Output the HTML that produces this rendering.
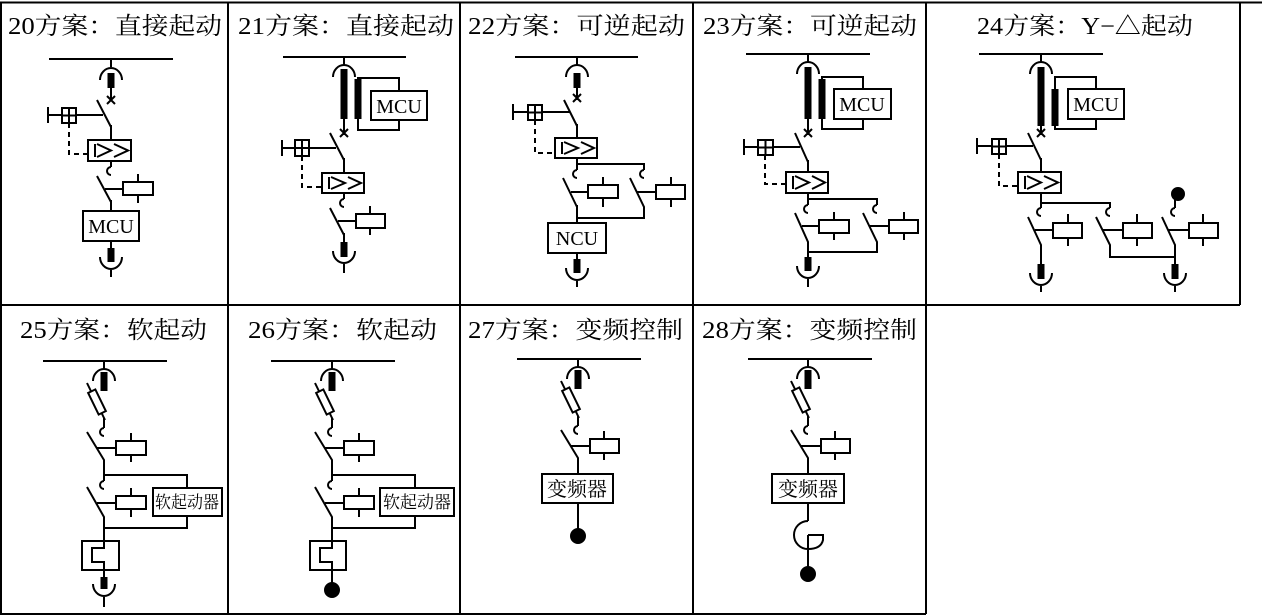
<!DOCTYPE html>
<html><head><meta charset="utf-8"><style>
html,body{margin:0;padding:0;background:#fff;}
svg{display:block;}
text{font-family:"Liberation Serif","Noto Serif CJK SC",serif;fill:#000;}
</style></head><body>
<svg width="1262" height="616" viewBox="0 0 1262 616" xmlns="http://www.w3.org/2000/svg">
<g fill="none" stroke="#000" stroke-width="2">
<path d="M0,2.5 H1262 M1,2 V614 M228,2 V614 M460,2 V614 M693,2 V614 M926,2 V614 M1240,2 V305 M0,305 H1240 M0,614 H926"/>
</g>
<g font-size="24">
<text x="8" y="34" textLength="214" lengthAdjust="spacingAndGlyphs">20方案：直接起动</text>
<text x="238" y="34" textLength="216" lengthAdjust="spacingAndGlyphs">21方案：直接起动</text>
<text x="468" y="34" textLength="217" lengthAdjust="spacingAndGlyphs">22方案：可逆起动</text>
<text x="703" y="34" textLength="214" lengthAdjust="spacingAndGlyphs">23方案：可逆起动</text>
<text x="977" y="34" textLength="216" lengthAdjust="spacingAndGlyphs">24方案：Y−△起动</text>
<text x="20" y="338" textLength="187" lengthAdjust="spacingAndGlyphs">25方案：软起动</text>
<text x="248" y="338" textLength="189" lengthAdjust="spacingAndGlyphs">26方案：软起动</text>
<text x="468" y="338" textLength="215" lengthAdjust="spacingAndGlyphs">27方案：变频控制</text>
<text x="702" y="338" textLength="215" lengthAdjust="spacingAndGlyphs">28方案：变频控制</text>
</g>
<g fill="none" stroke="#000" stroke-width="2">
<!-- P20 -->
<path d="M49,59 H173 M111,59 V67 M100,80 A11,12 0 0 1 122,80 M111,87 V100 M107,96 L115,104 M115,96 L107,104 M97,100 L111,127 M111,125 V140 M48,115 H103 M48,107 V123"/>
<rect x="108.5" y="74" width="5" height="13" fill="#000"/>
<rect x="62" y="108" width="14" height="15" fill="#fff"/><path d="M69,108 V123 M62,115.5 H76"/>
<path d="M69,123 V154 H88" stroke-dasharray="5,4"/>
<rect x="88" y="140" width="43" height="21"/><path d="M95,144 V157 M97,144 L111,150.5 L97,157 M114,144 L128,150.5 L114,157"/>
<path d="M111,161 V167 M111,167 a4,4 0 1 0 0,8 M97,176 L111,202 M111,200 V211 M105,189 H123 M138,174 V203"/>
<rect x="123" y="182" width="30" height="13" fill="#fff"/>
<rect x="83" y="211" width="56" height="30"/>
<path d="M111,241 V250 M100,257 A11,12 0 0 0 122,257 M111,268 V277"/>
<rect x="108.5" y="249" width="5" height="12" fill="#000"/>

<!-- P21 -->
<path d="M283,57 H406 M344,57 V65 M333,77 A11,12 0 0 1 355,77 M344,118 V135 M340,129 L348,137 M348,129 L340,137"/>
<rect x="341.5" y="70" width="5" height="48" fill="#000"/>
<rect x="358" y="78" width="41" height="52"/>
<rect x="355.5" y="80" width="5" height="38" fill="#000"/>
<rect x="371" y="91" width="56" height="29" fill="#fff"/>
<path d="M330,133 L344,160 M344,158 V173 M282,148 H336 M282,140 V156"/>
<rect x="295" y="140" width="14" height="16" fill="#fff"/><path d="M302,140 V156 M295,148 H309"/>
<path d="M302,156 V187 H322" stroke-dasharray="5,4"/>
<rect x="322" y="173" width="42" height="20"/><path d="M329,177 V189 M331,177 L345,183 L331,189 M348,177 L361,183 L348,189"/>
<path d="M344,193 V199 M344,199 a4,4 0 1 0 0,8 M330,208 L344,235 M344,233 V244 M338,221 H356 M370,206 V235"/>
<rect x="356" y="214" width="29" height="14" fill="#fff"/>
<rect x="341.5" y="243" width="5" height="13" fill="#000"/>
<path d="M333,251 A11,12 0 0 0 355,251 M344,262 V273"/>

<!-- P22 -->
<path d="M515,57 H638 M577,57 V65 M566,77 A11,12 0 0 1 588,77 M577,87 V100 M573,94 L581,102 M581,94 L573,102 M564,100 L577,126 M577,124 V138 M513,112 H570 M513,104 V120"/>
<rect x="574.5" y="74" width="5" height="13" fill="#000"/>
<rect x="528" y="105" width="14" height="15" fill="#fff"/><path d="M535,105 V120 M528,112.5 H542"/>
<path d="M535,120 V153 H555" stroke-dasharray="5,4"/>
<rect x="555" y="138" width="42" height="20"/><path d="M562,142 V154 M564,142 L578,148 L564,154 M581,142 L594,148 L581,154"/>
<path d="M577,158 V170 M577,164 H644 V170 M577,170 a4,4 0 1 0 0,8 M644,170 a4,4 0 1 0 0,8"/>
<path d="M563,178 L577,207 M577,205 V223 M571,192 H588 M603,177 V207"/>
<rect x="588" y="185" width="30" height="13" fill="#fff"/>
<path d="M630,178 L644,207 V218 H577 M637,192 H656 M671,177 V207"/>
<rect x="656" y="185" width="29" height="14" fill="#fff"/>
<rect x="548" y="223" width="58" height="30"/>
<path d="M577,253 V261 M566,268 A11,12 0 0 0 588,268 M577,279 V287"/>
<rect x="574.5" y="260" width="5" height="12" fill="#000"/>

<!-- P23 -->
<path d="M746,54 H870 M808,54 V62 M797,74 A11,12 0 0 1 819,74 M808,118 V135 M804,129 L812,137 M812,129 L804,137"/>
<rect x="805.5" y="68" width="5" height="50" fill="#000"/>
<rect x="822" y="77" width="41" height="52"/>
<rect x="819.5" y="80" width="5" height="38" fill="#000"/>
<rect x="834" y="89" width="57" height="30" fill="#fff"/>
<path d="M795,133 L808,162 M808,160 V172 M744,147 H800 M744,139 V155"/>
<rect x="758" y="140" width="15" height="15" fill="#fff"/><path d="M765.5,140 V155 M758,147.5 H773"/>
<path d="M765,155 V184 H786" stroke-dasharray="5,4"/>
<rect x="786" y="172" width="42" height="21"/><path d="M793,176 V189 M795,176 L809,182.5 L795,189 M812,176 L825,182.5 L812,189"/>
<path d="M808,193 V205 M808,199 H877 V205 M808,205 a4,4 0 1 0 0,8 M877,205 a4,4 0 1 0 0,8"/>
<path d="M795,213 L808,242 V258 M802,226 H819 M834,212 V240"/>
<rect x="819" y="220" width="30" height="13" fill="#fff"/>
<path d="M863,213 L877,242 V252 H808 M870,226 H889 M904,212 V240"/>
<rect x="889" y="220" width="29" height="13" fill="#fff"/>
<rect x="805.5" y="258" width="5" height="12" fill="#000"/>
<path d="M797,266 A11,12 0 0 0 819,266 M808,277 V287"/>

<!-- P24 -->
<path d="M979,54 H1103 M1041,54 V62 M1030,74 A11,12 0 0 1 1052,74 M1041,125 V135 M1037,129 L1045,137 M1045,129 L1037,137"/>
<rect x="1038.5" y="68" width="5" height="57" fill="#000"/>
<rect x="1055" y="77" width="41" height="52"/>
<rect x="1052.5" y="90" width="5" height="35" fill="#000"/>
<rect x="1068" y="89" width="56" height="30" fill="#fff"/>
<path d="M1028,133 L1041,160 M1041,158 V172 M977,146 H1033 M977,138 V154"/>
<rect x="992" y="139" width="14" height="15" fill="#fff"/><path d="M999,139 V154 M992,146.5 H1006"/>
<path d="M999,154 V186 H1018" stroke-dasharray="5,4"/>
<rect x="1018" y="172" width="43" height="21"/><path d="M1025,176 V189 M1027,176 L1041,182.5 L1027,189 M1044,176 L1058,182.5 L1044,189"/>
<path d="M1041,193 V208 M1041,203 H1110 V208 M1041,208 a4,4 0 1 0 0,8 M1110,208 a4,4 0 1 0 0,8"/>
<path d="M1028,217 L1041,245 V265 M1035,230 H1053 M1068,214 V246"/>
<rect x="1053" y="223" width="29" height="15" fill="#fff"/>
<rect x="1038.5" y="265" width="5" height="13" fill="#000"/>
<path d="M1030,273 A11,12 0 0 0 1052,273 M1041,284 V292"/>
<path d="M1096,217 L1110,245 V257 H1175 M1103,230 H1123 M1137,214 V246"/>
<rect x="1123" y="223" width="29" height="15" fill="#fff"/>
<circle cx="1178" cy="194" r="6" fill="#000"/>
<path d="M1175,198 V208 M1175,208 a4,4 0 1 0 0,8 M1162,217 L1175,245 V265 M1168,230 H1189 M1203,214 V246"/>
<rect x="1189" y="223" width="29" height="15" fill="#fff"/>
<rect x="1172.5" y="265" width="5" height="13" fill="#000"/>
<path d="M1164,273 A11,12 0 0 0 1186,273 M1175,284 V292"/>

<!-- P25 -->
<path d="M43,361 H167 M104,361 V369 M93,381 A11,12 0 0 1 115,381 M87,383 L105,420 M104,418 V428 M104,428 a4,4 0 1 0 0,8 M87,432 L104,460 V481 M104,475 H187 V488 M104,481 a4,4 0 1 0 0,8 M97,448 H116 M131,433 V462"/>
<rect x="101.5" y="373" width="5" height="17" fill="#000"/>
<rect x="85" y="398" width="24" height="8" transform="rotate(64 97 402)" fill="#fff"/>
<rect x="116" y="441" width="30" height="14" fill="#fff"/>
<path d="M87,487 L104,517 V541 M97,503 H116 M131,488 V517 M187,516 V528 H104"/>
<rect x="116" y="496" width="30" height="13" fill="#fff"/>
<rect x="153" y="488" width="69" height="28"/>
<rect x="82" y="541" width="37" height="29"/>
<path d="M104,541 V548 H92 V562 H104 V578 M93,584 A11,12 0 0 0 115,584 M104,595 V607"/>
<rect x="101.5" y="578" width="5" height="10" fill="#000"/>

<!-- P26 -->
<path d="M271,361 H395 M332,361 V369 M321,381 A11,12 0 0 1 343,381 M315,383 L333,420 M332,418 V428 M332,428 a4,4 0 1 0 0,8 M315,432 L332,460 V481 M332,475 H415 V488 M332,481 a4,4 0 1 0 0,8 M325,448 H344 M359,433 V462"/>
<rect x="329.5" y="373" width="5" height="17" fill="#000"/>
<rect x="313" y="398" width="24" height="8" transform="rotate(64 325 402)" fill="#fff"/>
<rect x="344" y="441" width="30" height="14" fill="#fff"/>
<path d="M315,487 L332,517 V541 M325,503 H344 M359,488 V517 M415,516 V528 H332"/>
<rect x="344" y="496" width="30" height="13" fill="#fff"/>
<rect x="380" y="488" width="74" height="28"/>
<rect x="310" y="541" width="36" height="29"/>
<path d="M332,541 V548 H320 V562 H332 V585"/>
<circle cx="332" cy="590" r="7" fill="#000"/>

<!-- P27 -->
<path d="M517,359 H641 M578,359 V367 M567,379 A11,12 0 0 1 589,379 M561,381 L579,418 M578,416 V426 M578,426 a4,4 0 1 0 0,8 M561,430 L578,458 V474 M571,446 H590 M604,431 V460 M578,503 V530"/>
<rect x="575.5" y="371" width="5" height="17" fill="#000"/>
<rect x="559" y="396" width="24" height="8" transform="rotate(64 571 400)" fill="#fff"/>
<rect x="590" y="439" width="29" height="14" fill="#fff"/>
<rect x="542" y="474" width="71" height="29"/>
<circle cx="578" cy="536" r="7" fill="#000"/>

<!-- P28 -->
<path d="M748,359 H872 M808,359 V367 M797,379 A11,12 0 0 1 819,379 M791,381 L809,418 M808,416 V426 M808,426 a4,4 0 1 0 0,8 M791,430 L808,458 V474 M801,446 H821 M835,431 V460 M808,503 V521"/>
<rect x="805.5" y="371" width="5" height="17" fill="#000"/>
<rect x="789" y="396" width="24" height="8" transform="rotate(64 801 400)" fill="#fff"/>
<rect x="821" y="439" width="29" height="14" fill="#fff"/>
<rect x="772" y="474" width="72" height="29"/>
<path d="M808,521 A14,14 0 0 0 808,549 M808,535 H823 V540 Q821,549 808,549 M808,535 V568"/>
<circle cx="808" cy="574" r="7" fill="#000"/>
</g>
<g font-size="20" text-anchor="middle">
<text x="111" y="233">MCU</text>
<text x="399" y="113">MCU</text>
<text x="577" y="245">NCU</text>
<text x="862" y="111">MCU</text>
<text x="1096" y="111">MCU</text>
<text x="577" y="496">变频器</text>
<text x="808" y="496">变频器</text>
</g>
<g font-size="17" text-anchor="middle">
<text x="187" y="508" textLength="64" lengthAdjust="spacingAndGlyphs">软起动器</text>
<text x="417" y="508" textLength="68" lengthAdjust="spacingAndGlyphs">软起动器</text>
</g>
</svg>
</body></html>
